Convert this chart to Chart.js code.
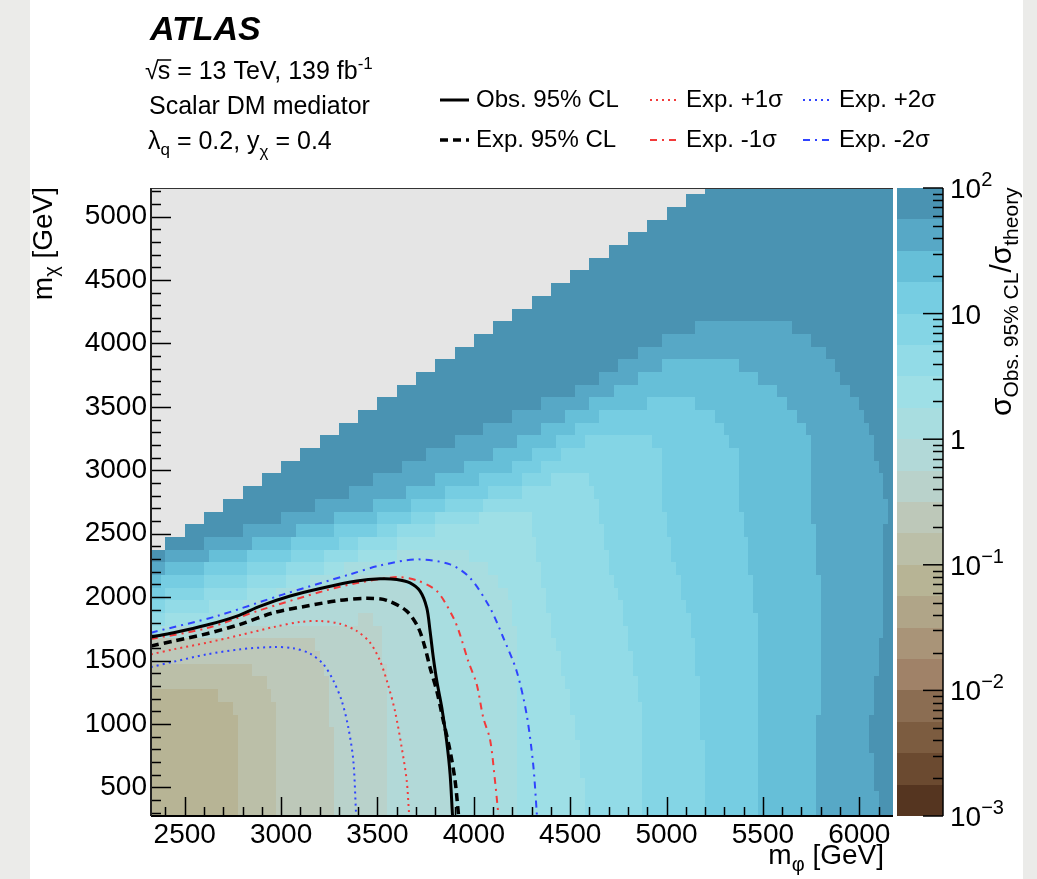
<!DOCTYPE html>
<html>
<head>
<meta charset="utf-8">
<title>ATLAS scalar DM mediator</title>
<script src="https://cdn.jsdelivr.net/npm/chart.js@4.4.1/dist/chart.umd.min.js"></script>
<style>
    html, body { margin: 0; padding: 0; background: #ebebe9; }
    canvas { display: block; }
</style>
</head>
<body>
<canvas id="limitChart" width="1037" height="879"></canvas>
<script>
/*
 * Colour map: one row per 100 GeV of m_chi (row centre),
 * each row is a list of "m_phi start : contour band" (band index into zLevels)
 * */
var mapRowChi = [325, 425, 525, 625, 725, 825, 925, 1025, 1125, 1225,
    1325, 1425, 1525, 1625, 1725, 1825, 1925, 2025, 2125, 2225,
    2325, 2425, 2525, 2625, 2725, 2825, 2925, 3025, 3125, 3225,
    3325, 3425, 3525, 3625, 3725, 3825, 3925, 4025, 4125, 4225,
    4325, 4425, 4525, 4625, 4725, 4825, 4925, 5025, 5125, 5225];

var mapRowRuns = [
    "2325:7 2775:8 2975:9 3275:10 3550:11 3900:12 4225:13 4575:14 4875:15 5200:16 5475:17 5775:18 6100:19",
    "2325:7 2775:8 2975:9 3275:10 3550:11 3875:12 4225:13 4575:14 4875:15 5200:16 5475:17 5775:18 6100:19",
    "2325:7 2775:8 2975:9 3275:10 3550:11 3875:12 4225:13 4575:14 4875:15 5200:16 5475:17 5775:18 6075:19",
    "2325:7 2775:8 2975:9 3275:10 3550:11 3875:12 4225:13 4550:14 4875:15 5200:16 5475:17 5775:18 6075:19",
    "2325:7 2775:8 2975:9 3275:10 3550:11 3875:12 4225:13 4550:14 4875:15 5200:16 5475:17 5775:18 6075:19",
    "2325:7 2775:8 2975:9 3275:10 3550:11 3850:12 4225:13 4550:14 4875:15 5200:16 5475:17 5775:18 6050:19",
    "2325:7 2775:8 2975:9 3275:10 3550:11 3850:12 4225:13 4525:14 4875:15 5175:16 5475:17 5775:18 6050:19",
    "2325:7 2775:8 2975:9 3250:10 3550:11 3850:12 4225:13 4525:14 4875:15 5175:16 5475:17 5775:18 6050:19",
    "2325:7 2750:8 2975:9 3250:10 3550:11 3825:12 4225:13 4500:14 4875:15 5175:16 5475:17 5800:18 6075:19",
    "2325:7 2675:8 2950:9 3250:10 3550:11 3825:12 4225:13 4500:14 4850:15 5175:16 5475:17 5800:18 6075:19",
    "2325:8 2925:9 3250:10 3550:11 3800:12 4225:13 4475:14 4850:15 5175:16 5475:17 5800:18 6075:19",
    "2325:8 2850:9 3225:10 3550:11 3800:12 4225:13 4450:14 4825:15 5150:16 5475:17 5800:18 6100:19",
    "2325:9 3200:10 3525:11 3800:12 4225:13 4450:14 4825:15 5150:16 5475:17 5800:18 6100:19",
    "2325:9 3175:10 3525:11 3775:12 4225:13 4425:14 4800:15 5150:16 5475:17 5800:18 6100:19",
    "2325:13 2375:12 2450:11 2700:10 3525:11 3775:12 4225:13 4400:14 4800:15 5125:16 5475:17 5800:18 6125:19",
    "2325:14 2400:13 2650:12 2725:11 3400:10 3475:11 3775:12 4200:13 4400:14 4775:15 5125:16 5475:17 5800:18 6125:19",
    "2325:15 2400:14 2625:13 2800:12 2875:11 3750:12 4200:13 4375:14 4775:15 5100:16 5450:17 5800:18 6125:19",
    "2325:16 2400:15 2600:14 2825:13 2975:12 3100:11 3725:12 4175:13 4375:14 4750:15 5075:16 5450:17 5800:18 6125:19",
    "2325:17 2375:16 2600:15 2825:14 3025:13 3150:12 3375:11 3650:12 4125:13 4350:14 4725:15 5075:16 5450:17 5800:18 6125:19",
    "2325:18 2400:17 2600:16 2825:15 3025:14 3225:13 3325:12 4075:13 4350:14 4700:15 5050:16 5425:17 5775:18 6125:19",
    "2325:19 2400:18 2625:17 2825:16 3050:15 3225:14 3400:13 3600:12 3975:13 4325:14 4700:15 5025:16 5425:17 5775:18 6125:19",
    "2400:19 2600:18 2850:17 3050:16 3300:15 3400:14 3600:13 4325:14 4675:15 5025:16 5425:17 5775:18 6125:19",
    "2500:19 2800:18 3075:17 3275:16 3500:15 3600:14 3800:13 4300:14 4675:15 5000:16 5400:17 5775:18 6125:19",
    "2600:19 3000:18 3275:17 3500:16 3675:15 3800:14 4025:13 4300:14 4650:15 5000:16 5400:17 5750:18 6150:19",
    "2700:19 3175:18 3475:17 3675:16 3850:15 4050:14 4650:15 4975:16 5375:17 5750:18 6150:19",
    "2800:19 3350:18 3650:17 3850:16 4075:15 4250:14 4625:15 4975:16 5375:17 5750:18 6125:19",
    "2900:19 3475:18 3800:17 4025:16 4250:15 4400:14 4600:15 4975:16 5375:17 5750:18 6125:19",
    "3000:19 3625:18 3950:17 4200:16 4350:15 4975:16 5375:17 5750:18 6100:19",
    "3100:19 3750:18 4100:17 4300:16 4450:15 4975:16 5375:17 5750:18 6075:19",
    "3200:19 3900:18 4225:17 4425:16 4575:15 4925:16 5325:17 5750:18 6075:19",
    "3300:19 4050:18 4350:17 4525:16 5300:17 5725:18 6050:19",
    "3400:19 4200:18 4475:17 4650:16 5250:17 5675:18 6025:19",
    "3500:19 4350:18 4600:17 4900:16 5150:17 5625:18 6000:19",
    "3600:19 4525:18 4725:17 5575:18 5950:19",
    "3700:19 4650:18 4850:17 5475:18 5900:19",
    "3800:19 4750:18 4975:17 5375:18 5875:19",
    "3900:19 4850:18 5825:19",
    "4000:19 4975:18 5750:19",
    "4100:19 5150:18 5650:19",
    "4200:19",
    "4300:19",
    "4400:19",
    "4500:19",
    "4600:19",
    "4700:19",
    "4800:19",
    "4900:19",
    "5000:19",
    "5100:19",
    "5200:19"
];

// contour levels of sigma_obs / sigma_theory (band k goes from zLevels[k] to zLevels[k+1])
var zLevels = [0.001, 0.00178, 0.00316, 0.00562, 0.01, 0.0178, 0.0316, 0.0562, 0.1, 0.178,
    0.316, 0.562, 1, 1.78, 3.16, 5.62, 10, 17.8, 31.6, 56.2, 100];

var zDecades = [0.001, 0.01, 0.1, 1, 10, 100];

var phiTicks = [2500, 3000, 3500, 4000, 4500, 5000, 5500, 6000];
var chiTicks = [500, 1000, 1500, 2000, 2500, 3000, 3500, 4000, 4500, 5000];

// limit contours [m_phi, m_chi]
var obsLimit = [[2325, 1685], [2442, 1719], [2615, 1780], [2771, 1851], [2892, 1930], [3047, 2009],
    [3220, 2074], [3393, 2127], [3514, 2145], [3600, 2140], [3669, 2113], [3721, 2048], [3756, 1916],
    [3773, 1733], [3790, 1522], [3808, 1339], [3834, 1128], [3859, 866], [3877, 604], [3889, 291], [3890, 275]];

var expLimit = [[2325, 1615], [2442, 1654], [2615, 1712], [2788, 1786], [2961, 1877], [3134, 1930],
    [3306, 1975], [3445, 1991], [3548, 1975], [3652, 1890], [3712, 1759], [3747, 1601], [3773, 1444],
    [3808, 1260], [3842, 1024], [3877, 787], [3903, 551], [3920, 291], [3921, 275]];

var expPlus1 = [[2325, 1549], [2442, 1589], [2615, 1641], [2788, 1701], [2961, 1764], [3099, 1804],
    [3203, 1812], [3306, 1790], [3393, 1733], [3462, 1641], [3514, 1496], [3557, 1299], [3592, 1095],
    [3626, 813], [3652, 551], [3664, 291], [3665, 275]];

var expMinus1 = [[2325, 1670], [2615, 1756], [2892, 1898], [3220, 2048], [3393, 2111], [3600, 2158],
    [3704, 2132], [3808, 2048], [3894, 1838], [3928, 1707], [3970, 1500], [4015, 1313], [4049, 1050],
    [4084, 880], [4110, 551], [4127, 291], [4128, 275]];

var expPlus2 = [[2325, 1449], [2442, 1491], [2615, 1549], [2788, 1589], [2961, 1607], [3064, 1597],
    [3151, 1554], [3220, 1470], [3272, 1339], [3315, 1181], [3349, 971], [3375, 708], [3389, 291], [3390, 275]];

var expMinus2 = [[2325, 1720], [2667, 1851], [3012, 2022], [3358, 2180], [3514, 2250], [3704, 2298],
    [3877, 2258], [3980, 2152], [4084, 1916], [4153, 1680], [4222, 1418], [4274, 1076], [4308, 682],
    [4326, 314], [4327, 275]];

var FONT = '"Liberation Sans", Arial, Helvetica, sans-serif';

var bandColors = ['#553520', '#6b4a30', '#7c5c40', '#8b6d52', '#a08268', '#a99478', '#b0a588',
    '#b7b495', '#bbbfa8', '#bdc8b9', '#b9d2cb', '#b2d9d8', '#a8dde0', '#9edfe6', '#92dbe7',
    '#84d5e5', '#76cde2', '#66bfd8', '#57a8c6', '#4a93b2'];

function toPoints(arr) {
    return arr.map(function (p) { return {x: p[0], y: p[1]}; });
}

function parseRuns(row) {
    return row.split(' ').map(function (s) {
        var kv = s.split(':');
        return {phi: Number(kv[0]), band: Number(kv[1])};
    });
}

// draws a list of [text, size, dy, style] pieces, returns width
function drawRich(ctx, parts, x, y, align) {
    var total = 0;
    parts.forEach(function (p) {
        ctx.font = (p[3] || '') + ' ' + p[1] + 'px ' + FONT;
        total += ctx.measureText(p[0]).width;
    });
    var cx = align === 'right' ? x - total : x;
    parts.forEach(function (p) {
        ctx.font = (p[3] || '') + ' ' + p[1] + 'px ' + FONT;
        ctx.fillText(p[0], cx, y + (p[2] || 0));
        cx += ctx.measureText(p[0]).width;
    });
    return total;
}

function line(ctx, x0, y0, x1, y1) {
    ctx.beginPath();
    ctx.moveTo(x0, y0);
    ctx.lineTo(x1, y1);
    ctx.stroke();
}

var paperPlugin = {
    id: 'paper',
    beforeDraw: function (chart) {
        var ctx = chart.ctx;
        ctx.save();
        ctx.fillStyle = '#ebebe9';
        ctx.fillRect(0, 0, chart.width, chart.height);
        ctx.fillStyle = '#ffffff';
        ctx.fillRect(30, 0, 993, chart.height);
        ctx.restore();
    }
};

var heatmapPlugin = {
    id: 'heatmap',
    beforeDatasetsDraw: function (chart) {
        var ctx = chart.ctx;
        var a = chart.chartArea;
        var x = chart.scales.x;
        var y = chart.scales.y;

        ctx.save();
        ctx.beginPath();
        ctx.rect(a.left, a.top, a.right - a.left, a.bottom - a.top);
        ctx.clip();
        ctx.fillStyle = '#e5e5e5';
        ctx.fillRect(a.left, a.top, a.right - a.left, a.bottom - a.top);

        mapRowChi.forEach(function (chi, i) {
            var runs = parseRuns(mapRowRuns[i]);
            var yTop = Math.round(y.getPixelForValue(chi + 50));
            var yBot = Math.round(y.getPixelForValue(chi - 50));
            runs.forEach(function (r, j) {
                var x0 = Math.round(x.getPixelForValue(r.phi));
                var x1 = j + 1 < runs.length ? Math.round(x.getPixelForValue(runs[j + 1].phi)) : Math.ceil(a.right);
                ctx.fillStyle = bandColors[r.band];
                ctx.fillRect(x0, yTop, x1 - x0, yBot - yTop);
            });
        });
        ctx.restore();
    }
};

var overlayPlugin = {
    id: 'overlay',
    afterDraw: function (chart) {
        var ctx = chart.ctx;
        var a = chart.chartArea;
        var x = chart.scales.x;
        var y = chart.scales.y;
        var z = chart.scales.z;
        var v, p, len;

        ctx.save();
        ctx.strokeStyle = '#000';
        ctx.lineWidth = 1.5;

        // axis ticks, pointing inwards
        for (v = 2400; v <= 6100; v += 100) {
            p = Math.round(x.getPixelForValue(v)) + 0.5;
            len = v % 500 === 0 ? 19 : 9;
            line(ctx, p, a.bottom, p, a.bottom - len);
        }
        for (v = 300; v <= 5200; v += 100) {
            p = Math.round(y.getPixelForValue(v)) + 0.5;
            len = v % 500 === 0 ? 20 : 10;
            line(ctx, a.left, p, a.left + len, p);
        }

        // frame
        ctx.lineWidth = 1;
        ctx.strokeStyle = '#333';
        line(ctx, a.left, a.top + 0.5, a.right, a.top + 0.5);
        ctx.lineWidth = 2;
        ctx.strokeStyle = '#000';
        line(ctx, a.left, a.bottom, a.right, a.bottom);
        ctx.strokeStyle = '#222';
        line(ctx, a.left, a.top, a.left, a.bottom);

        // colour bar
        var cbLeft = z.left + 4;
        var cbRight = z.left + 50;
        for (var k = 0; k < bandColors.length; k++) {
            var yHi = Math.round(z.getPixelForValue(zLevels[k + 1]));
            var yLo = Math.round(z.getPixelForValue(zLevels[k]));
            ctx.fillStyle = bandColors[k];
            ctx.fillRect(cbLeft, yHi, cbRight - cbLeft, yLo - yHi);
        }
        ctx.strokeStyle = '#000';
        ctx.lineWidth = 1.5;
        line(ctx, cbRight, a.top, cbRight, a.bottom);
        zDecades.forEach(function (d, i) {
            p = z.getPixelForValue(d);
            line(ctx, cbRight, p, cbRight - 20, p);
            if (i < zDecades.length - 1) {
                for (var m = 2; m <= 9; m++) {
                    var q = Math.round(z.getPixelForValue(d * m)) + 0.5;
                    line(ctx, cbRight, q, cbRight - 10, q);
                }
            }
        });

        ctx.fillStyle = '#000';
        ctx.textBaseline = 'alphabetic';
        var expLabels = ['\u22123', '\u22122', '\u22121', '', '', '2'];
        zDecades.forEach(function (d, i) {
            p = z.getPixelForValue(d) + 10;
            if (d === 1) {
                drawRich(ctx, [['1', 28]], cbRight + 7, p);
            } else if (d === 10) {
                drawRich(ctx, [['10', 28]], cbRight + 7, p);
            } else {
                drawRich(ctx, [['10', 28], [expLabels[i], 20, -12]], cbRight + 7, p);
            }
        });

        // colour bar title
        ctx.save();
        ctx.translate(1011, 416);
        ctx.rotate(-Math.PI / 2);
        drawRich(ctx, [['\u03c3', 30], ['Obs. 95% CL', 21, 7], ['/', 30], ['\u03c3', 30], ['theory', 21, 7]], 0, 0);
        ctx.restore();

        // axis titles
        ctx.save();
        ctx.translate(52, 187);
        ctx.rotate(-Math.PI / 2);
        drawRich(ctx, [['m', 28], ['\u03c7', 20, 6], [' [GeV]', 28]], 0, 0, 'right');
        ctx.restore();
        drawRich(ctx, [['m', 28], ['\u03c6', 20, 7], [' [GeV]', 28]], 884, 864, 'right');

        // labels
        ctx.font = 'italic bold 34px ' + FONT;
        ctx.fillText('ATLAS', 150, 40);

        ctx.font = '25px ' + FONT;
        ctx.fillText('\u221a', 145, 79);
        var sx = 145 + ctx.measureText('\u221a').width - 1;
        var sw = ctx.measureText('s').width;
        ctx.lineWidth = 1.5;
        line(ctx, sx, 60, sx + sw + 1, 60);
        drawRich(ctx, [['s = 13 TeV, 139 fb', 25], ['-1', 17, -10]], sx, 79);

        drawRich(ctx, [['Scalar DM mediator', 25]], 149, 114);
        drawRich(ctx, [['\u03bb', 25], ['q', 17, 6], [' = 0.2, y', 25], ['\u03c7', 17, 8], [' = 0.4', 25]], 148, 149);

        // legend
        var slots = [[440, 100], [440, 140], [650, 100], [650, 140], [803, 100], [803, 140]];
        chart.data.datasets.forEach(function (ds, i) {
            var s = slots[i];
            ctx.save();
            ctx.strokeStyle = ds.borderColor;
            ctx.lineWidth = ds.borderWidth;
            ctx.setLineDash(ds.borderDash || []);
            line(ctx, s[0], s[1], s[0] + 29, s[1]);
            ctx.restore();
            ctx.fillStyle = '#000';
            ctx.font = '24px ' + FONT;
            ctx.textBaseline = 'middle';
            ctx.fillText(ds.label, s[0] + 36, s[1]);
        });
        ctx.restore();
    }
};

function limitDataset(label, points, color, width, dash) {
    return {
        label: label,
        data: toPoints(points),
        showLine: true,
        borderColor: color,
        borderWidth: width,
        borderDash: dash,
        borderCapStyle: 'butt',
        pointRadius: 0,
        tension: 0.3,
        fill: false,
        yAxisID: 'y'
    };
}

function loadLimitChart(selectorId) {
    var canvas = document.getElementById(selectorId);
    var ctx = canvas.getContext('2d');

    var tickFont = {family: FONT, size: 28};

    return new Chart(ctx, {
        type: 'scatter',
        data: {
            datasets: [
                limitDataset('Obs. 95% CL', obsLimit, '#000000', 3, []),
                limitDataset('Exp. 95% CL', expLimit, '#000000', 3.5, [8, 5]),
                limitDataset('Exp. +1\u03c3', expPlus1, '#f23a3a', 2, [2, 4]),
                limitDataset('Exp. -1\u03c3', expMinus1, '#f23a3a', 2, [7, 5, 2, 5]),
                limitDataset('Exp. +2\u03c3', expPlus2, '#2f43ff', 2, [2, 4]),
                limitDataset('Exp. -2\u03c3', expMinus2, '#2f43ff', 2, [7, 5, 2, 5])
            ]
        },
        options: {
            responsive: false,
            animation: false,
            devicePixelRatio: 1,
            layout: {padding: {top: 188, left: 0, right: 0, bottom: 0}},
            plugins: {
                legend: {display: false},
                tooltip: {enabled: false}
            },
            scales: {
                x: {
                    type: 'linear',
                    min: 2325,
                    max: 6175,
                    afterBuildTicks: function (s) {
                        s.ticks = phiTicks.map(function (t) { return {value: t}; });
                    },
                    ticks: {
                        autoSkip: false, maxRotation: 0, minRotation: 0,
                        font: tickFont, color: '#000', padding: 2,
                        callback: function (v) { return String(v); }
                    },
                    grid: {display: false, drawTicks: false},
                    border: {display: false},
                    afterFit: function (s) { s.height = 63; }
                },
                y: {
                    type: 'linear',
                    min: 275,
                    max: 5225,
                    afterBuildTicks: function (s) {
                        s.ticks = chiTicks.map(function (t) { return {value: t}; });
                    },
                    ticks: {
                        autoSkip: false,
                        font: tickFont, color: '#000', padding: 4,
                        callback: function (v) { return String(v); }
                    },
                    grid: {display: false, drawTicks: false},
                    border: {display: false},
                    afterFit: function (s) { s.width = 151; }
                },
                z: {
                    type: 'logarithmic',
                    position: 'right',
                    min: 0.001,
                    max: 100,
                    ticks: {display: false},
                    grid: {display: false, drawTicks: false},
                    border: {display: false},
                    afterFit: function (s) { s.width = 144; }
                }
            }
        },
        plugins: [paperPlugin, heatmapPlugin, overlayPlugin]
    });
}

loadLimitChart('limitChart');
</script>
</body>
</html>
